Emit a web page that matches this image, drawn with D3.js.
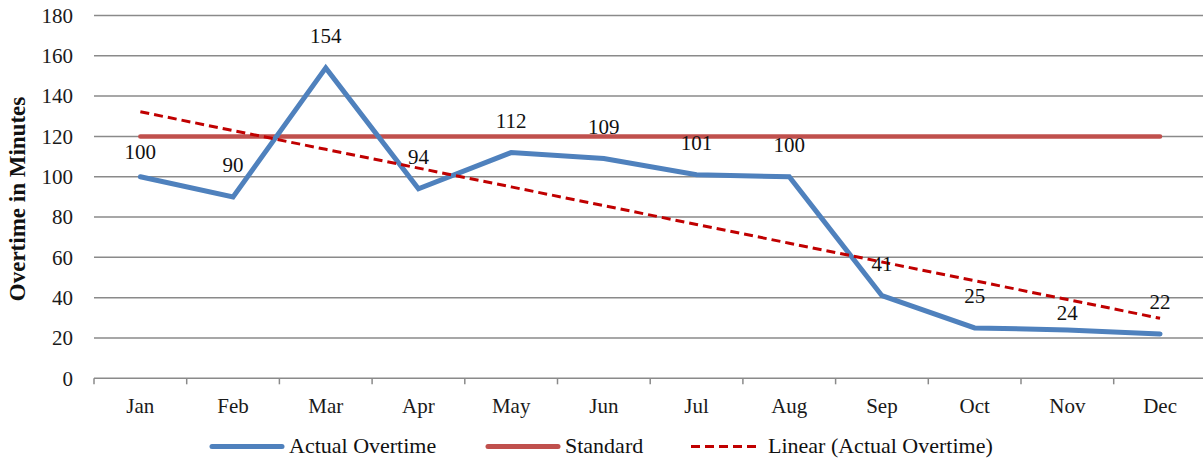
<!DOCTYPE html>
<html>
<head>
<meta charset="utf-8">
<script src="https://cdn.jsdelivr.net/npm/d3@7/dist/d3.min.js"></script>
<style>
  html, body { margin: 0; padding: 0; background: #fff; }
  svg text { font-family: "Liberation Serif", "Times New Roman", serif; }
</style>
</head>
<body>
<svg id="chart" width="1203" height="462"></svg>
<script>
// Monthly overtime data
const months = ["Jan", "Feb", "Mar", "Apr", "May", "Jun", "Jul", "Aug", "Sep", "Oct", "Nov", "Dec"];
const actualOvertime = [100, 90, 154, 94, 112, 109, 101, 100, 41, 25, 24, 22];
const standardOvertime = [120, 120, 120, 120, 120, 120, 120, 120, 120, 120, 120, 120];
const yTicks = [0, 20, 40, 60, 80, 100, 120, 140, 160, 180];
const seriesNames = ["Actual Overtime", "Standard", "Linear (Actual Overtime)"];
const yTitle = "Overtime in Minutes";

const FONT = "'Liberation Serif', 'Times New Roman', serif";

// Least-squares fit of the actual series (x = 1..n)
function linearFit(values) {
  const xs = values.map((_, i) => i + 1);
  const mx = d3.mean(xs), my = d3.mean(values);
  const sxy = d3.sum(xs, (xv, i) => (xv - mx) * (values[i] - my));
  const sxx = d3.sum(xs, xv => (xv - mx) * (xv - mx));
  const slope = sxy / sxx;
  const intercept = my - slope * mx;
  return xs.map(xv => intercept + slope * xv);
}
const trend = linearFit(actualOvertime);

const svg = d3.select("#chart");
const plotLeft = 94, plotRight = 94 + 12 * 92.7;
const plotTop = 15.5, plotBottom = 378.3;

const x = d3.scaleBand().domain(months).range([plotLeft, plotRight]);
const cx = m => x(m) + x.bandwidth() / 2;
const y = d3.scaleLinear().domain([0, 180]).range([plotBottom, plotTop]);

const BLUE = "#4F81BD", RED = "#C0504D", DARKRED = "#C00000", GRID = "#8a8a8a";

// Horizontal gridlines
svg.append("g")
  .selectAll("line")
  .data(yTicks.filter(t => t > 0))
  .join("line")
  .attr("x1", plotLeft).attr("x2", 1203)
  .attr("y1", d => y(d)).attr("y2", d => y(d))
  .attr("stroke", GRID).attr("stroke-width", 1.5);

// Y axis labels
const yAxis = svg.append("g")
  .attr("transform", `translate(${plotLeft},0)`)
  .call(d3.axisLeft(y).tickValues(yTicks).tickSize(0).tickPadding(21));
yAxis.attr("font-family", FONT);
yAxis.select(".domain").remove();
yAxis.selectAll("text")
  .attr("font-family", FONT)
  .attr("font-size", 21)
  .attr("fill", "#1a1a1a");

// X axis with ticks between categories
const xAxisG = svg.append("g").attr("transform", `translate(0,${plotBottom})`);
xAxisG.append("line")
  .attr("x1", plotLeft).attr("x2", 1203)
  .attr("y1", 0).attr("y2", 0)
  .attr("stroke", GRID).attr("stroke-width", 1.5);
xAxisG.selectAll("line.tick")
  .data(months)
  .join("line")
  .attr("class", "tick")
  .attr("x1", d => x(d)).attr("x2", d => x(d))
  .attr("y1", 0).attr("y2", 6)
  .attr("stroke", GRID).attr("stroke-width", 1.5);
xAxisG.selectAll("text")
  .data(months)
  .join("text")
  .attr("x", d => cx(d))
  .attr("y", 35)
  .attr("text-anchor", "middle")
  .attr("font-family", FONT)
  .attr("font-size", 21)
  .attr("fill", "#1a1a1a")
  .text(d => d);

// Y axis title
svg.append("text")
  .attr("transform", `translate(25,199) rotate(-90)`)
  .attr("text-anchor", "middle")
  .attr("font-family", FONT)
  .attr("font-size", 23)
  .attr("font-weight", "bold")
  .attr("fill", "#111")
  .text(yTitle);

const line = d3.line().x((d, i) => cx(months[i])).y(d => y(d));

// Standard line
svg.append("path")
  .datum(standardOvertime)
  .attr("d", line)
  .attr("fill", "none")
  .attr("stroke", RED)
  .attr("stroke-width", 4.5)
  .attr("stroke-linecap", "round");

// Actual overtime line
svg.append("path")
  .datum(actualOvertime)
  .attr("d", line)
  .attr("fill", "none")
  .attr("stroke", BLUE)
  .attr("stroke-width", 5)
  .attr("stroke-linejoin", "miter")
  .attr("stroke-linecap", "round");

// Linear trendline
svg.append("path")
  .datum(trend)
  .attr("d", line)
  .attr("fill", "none")
  .attr("stroke", DARKRED)
  .attr("stroke-width", 3)
  .attr("stroke-dasharray", "9,5");

// Value labels above points (a couple nudged down to clear the lines)
const labelShift = { Jan: 7, Nov: 15 };
svg.append("g")
  .selectAll("text")
  .data(actualOvertime)
  .join("text")
  .attr("x", (d, i) => cx(months[i]))
  .attr("y", (d, i) => y(d) - 25 + (labelShift[months[i]] || 0))
  .attr("text-anchor", "middle")
  .attr("font-family", FONT)
  .attr("font-size", 21)
  .attr("fill", "#111")
  .text(d => d);

// Legend
const legend = [
  { name: seriesNames[0], color: BLUE, width: 5, dash: null, x0: 212 },
  { name: seriesNames[1], color: RED, width: 5, dash: null, x0: 488 },
  { name: seriesNames[2], color: DARKRED, width: 3, dash: "9,5", x0: 691 }
];
const lg = svg.append("g");
legend.forEach(l => {
  const ln = lg.append("line")
    .attr("x1", l.x0).attr("x2", l.x0 + 70)
    .attr("y1", 446.5).attr("y2", 446.5)
    .attr("stroke", l.color)
    .attr("stroke-width", l.width)
    .attr("stroke-linecap", l.dash ? "butt" : "round");
  if (l.dash) ln.attr("stroke-dasharray", l.dash);
  lg.append("text")
    .attr("x", l.x0 + 77)
    .attr("y", 453)
    .attr("font-family", FONT)
    .attr("font-size", 22)
    .attr("fill", "#111")
    .text(l.name);
});
</script>
</body>
</html>
